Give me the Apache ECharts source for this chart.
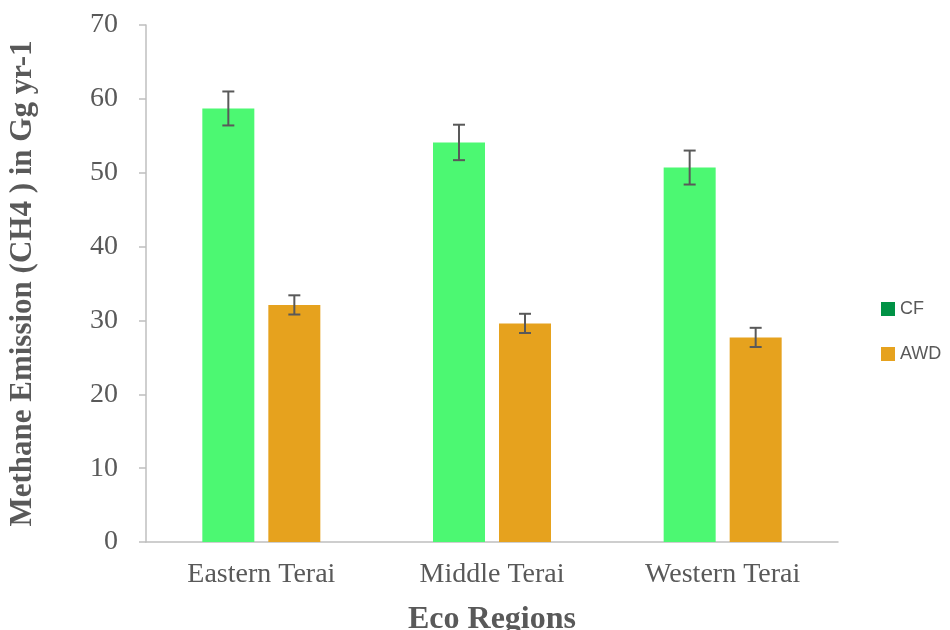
<!DOCTYPE html>
<html>
<head>
<meta charset="utf-8">
<script src="https://cdn.jsdelivr.net/npm/echarts@6/dist/echarts.min.js"></script>
<style>
  html, body { margin: 0; padding: 0; background: #fff; }
  #main { width: 950px; height: 630px; }
</style>
</head>
<body>
<div id="main"></div>
<script>
// data
var categories = ['Eastern Terai', 'Middle Terai', 'Western Terai'];
var cfValues = [58.7, 54.1, 50.7];
var awdValues = [32.1, 29.6, 27.7];
var cfErr = [2.3, 2.4, 2.3];
var awdErr = [1.3, 1.3, 1.3];
var yTicks = [0, 10, 20, 30, 40, 50, 60, 70];

var chart = echarts.init(document.getElementById('main'));

var BAR_W = 52;
var BAR_GAP = 14;

// error bars drawn with a custom series, shifted onto each bar
function errorBar(values, errs, side) {
  return {
    type: 'custom',
    silent: true,
    z: 10,
    data: values.map(function (v, i) { return [i, v - errs[i], v + errs[i]]; }),
    renderItem: function (params, api) {
      var lo = api.coord([api.value(0), api.value(1)]);
      var hi = api.coord([api.value(0), api.value(2)]);
      var x = lo[0] + side * (BAR_W + BAR_GAP) / 2;
      var cap = 6;
      var style = { stroke: '#595959', lineWidth: 2 };
      return {
        type: 'group',
        children: [
          { type: 'line', shape: { x1: x, y1: hi[1], x2: x, y2: lo[1] }, style: style },
          { type: 'line', shape: { x1: x - cap, y1: hi[1], x2: x + cap, y2: hi[1] }, style: style },
          { type: 'line', shape: { x1: x - cap, y1: lo[1], x2: x + cap, y2: lo[1] }, style: style }
        ]
      };
    }
  };
}

var option = {
  backgroundColor: '#fff',
  animation: false,
  grid: { left: 146, right: 112, top: 25, bottom: 88, outerBoundsMode: 'none' },
  legend: {
    orient: 'vertical',
    left: 881,
    top: 300,
    padding: 0,
    itemWidth: 14,
    itemHeight: 14,
    itemGap: 27,
    textStyle: { fontFamily: 'Liberation Sans', fontSize: 18, color: '#595959' },
    data: [
      { name: 'CF', icon: 'rect', itemStyle: { color: '#009245' } },
      { name: 'AWD', icon: 'rect', itemStyle: { color: '#E6A21E' } }
    ]
  },
  xAxis: {
    type: 'category',
    data: categories,
    name: 'Eco Regions',
    nameLocation: 'middle',
    nameGap: 62,
    nameTextStyle: { fontFamily: 'Liberation Serif', fontSize: 32, fontWeight: 'bold', color: '#595959' },
    axisLine: { lineStyle: { color: '#BFBFBF', width: 1.5 } },
    axisTick: { show: false },
    axisLabel: { fontFamily: 'Liberation Serif', fontSize: 28, color: '#595959', margin: 19 }
  },
  yAxis: {
    type: 'value',
    min: yTicks[0],
    max: yTicks[yTicks.length - 1],
    interval: 10,
    name: 'Methane Emission (CH4 ) in Gg yr-1',
    nameLocation: 'middle',
    nameGap: 108,
    nameTextStyle: { fontFamily: 'Liberation Serif', fontSize: 31, fontWeight: 'bold', color: '#595959' },
    axisLine: { show: true, lineStyle: { color: '#BFBFBF', width: 1.5 } },
    axisTick: { show: true, length: 7, lineStyle: { color: '#BFBFBF', width: 1.5 } },
    splitLine: { show: false },
    axisLabel: { fontFamily: 'Liberation Serif', fontSize: 28, color: '#595959', margin: 28 }
  },
  series: [
    {
      name: 'CF',
      type: 'bar',
      data: cfValues,
      barWidth: BAR_W,
      barGap: (BAR_GAP / BAR_W * 100) + '%',
      itemStyle: { color: '#4CF872' }
    },
    {
      name: 'AWD',
      type: 'bar',
      data: awdValues,
      barWidth: BAR_W,
      itemStyle: { color: '#E6A21E' }
    },
    errorBar(cfValues, cfErr, -1),
    errorBar(awdValues, awdErr, 1)
  ]
};

chart.setOption(option);
</script>
</body>
</html>
